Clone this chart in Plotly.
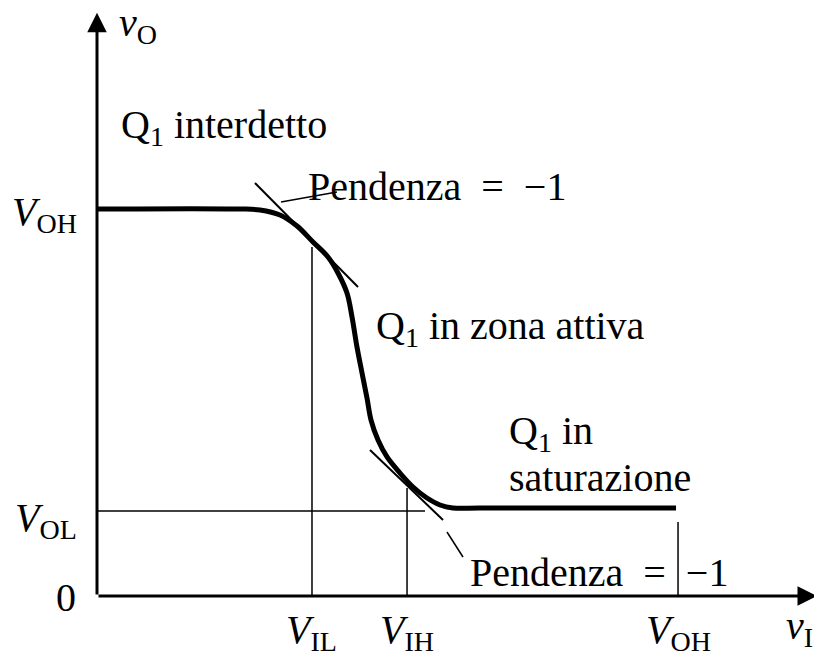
import plotly.graph_objects as go

# levels (arbitrary volt units)
V_OH = 5.375
V_OL = 1.18
V_IL = 2.986
V_IH = 4.306
V_OH_x = 8.07
v_max_x = 10.0
v_max_y = 8.10

# transfer characteristic vO(vI)
curve_x = [0.0, 1.986, 2.264, 2.542, 2.778, 3.000, 3.208, 3.347, 3.472, 3.542, 3.611,
           3.681, 3.750, 3.806, 3.903, 4.028, 4.208, 4.389, 4.583, 4.764, 4.944, 5.319, 8.042]
curve_y = [5.375, 5.375, 5.361, 5.292, 5.139, 4.917, 4.708, 4.486, 4.208, 3.875, 3.458,
           3.097, 2.750, 2.444, 2.167, 1.931, 1.708, 1.514, 1.361, 1.264, 1.222, 1.222, 1.222]

# tangents with slope -1 and their leaders
tan1_x = [2.194, 3.625]
tan1_y = [5.736, 4.292]
tan2_x = [3.792, 4.806]
tan2_y = [2.028, 1.056]
lead1_x = [2.556, 3.333]
lead1_y = [5.472, 5.611]
lead2_x = [4.861, 5.083]
lead2_y = [0.889, 0.542]

# guide lines
vil_top = 4.847
vih_top = 1.50
vol_end = 4.556
voh_tick = 1.028

FONT = "Liberation Serif"
px = 72.0
# page has an 8px body margin, so the figure is a bit smaller and shifted
W, H = 814, 651
x0, y0 = 89, 588

fig = go.Figure()

thin = dict(color="black", width=1.5)
fig.add_trace(go.Scatter(x=[V_IL, V_IL], y=[0, vil_top], mode="lines", line=thin))
fig.add_trace(go.Scatter(x=[V_IH, V_IH], y=[0, vih_top], mode="lines", line=thin))
fig.add_trace(go.Scatter(x=[0, vol_end], y=[V_OL, V_OL], mode="lines", line=thin))
fig.add_trace(go.Scatter(x=[V_OH_x, V_OH_x], y=[0, voh_tick], mode="lines", line=thin))

fig.add_trace(go.Scatter(x=tan1_x, y=tan1_y, mode="lines", line=dict(color="black", width=2)))
fig.add_trace(go.Scatter(x=tan2_x, y=tan2_y, mode="lines", line=dict(color="black", width=2)))
fig.add_trace(go.Scatter(x=lead1_x, y=lead1_y, mode="lines", line=dict(color="black", width=1.5)))
fig.add_trace(go.Scatter(x=lead2_x, y=lead2_y, mode="lines", line=dict(color="black", width=1.5)))

fig.add_trace(go.Scatter(x=curve_x, y=curve_y, mode="lines",
                         line=dict(color="black", width=5, shape="spline", smoothing=1.0)))

# axes with arrow heads
fig.add_annotation(x=v_max_x, y=0, ax=0, ay=0, axref="x", ayref="y", text="",
                   showarrow=True, arrowhead=2, arrowsize=1.3, arrowwidth=3, arrowcolor="black")
fig.add_annotation(x=0, y=v_max_y, ax=0, ay=0, axref="x", ayref="y", text="",
                   showarrow=True, arrowhead=2, arrowsize=1.3, arrowwidth=3, arrowcolor="black")

fs = 40
def label(x, y, text, xanchor="left", size=fs):
    fig.add_annotation(x=x, y=y, text=text, showarrow=False, xanchor=xanchor, yanchor="middle",
                       font=dict(family=FONT, size=size, color="black"))

slope_txt = "Pendenza\u2002=\u2002−1"
label(0.28, 7.93, "<i>v</i><sub>O</sub>")
label(0.30, 6.52, "Q<sub>1</sub> interdetto")
label(2.90, 5.69, slope_txt)
label(3.85, 3.72, "Q<sub>1</sub> in zona attiva")
label(5.70, 2.26, "Q<sub>1</sub> in")
label(5.70, 1.64, "saturazione")
label(5.15, 0.33, slope_txt)

label(-0.25, 5.30, "<i>V</i><sub>OH</sub>", xanchor="right")
label(-0.25, 1.05, "<i>V</i><sub>OL</sub>", xanchor="right")
label(-0.27, -0.02, "0", xanchor="right")

label(V_IL, -0.50, "<i>V</i><sub>IL</sub>", xanchor="center")
label(V_IH, -0.50, "<i>V</i><sub>IH</sub>", xanchor="center")
label(V_OH_x, -0.50, "<i>V</i><sub>OH</sub>", xanchor="center")
label(9.76, -0.45, "<i>v</i><sub>I</sub>", xanchor="center")

fig.update_layout(
    width=W, height=H,
    margin=dict(l=0, r=0, t=0, b=0),
    paper_bgcolor="white", plot_bgcolor="white",
    showlegend=False,
    xaxis=dict(range=[-x0 / px, (W - x0) / px], visible=False, fixedrange=True),
    yaxis=dict(range=[-(H - y0) / px, y0 / px], visible=False, fixedrange=True),
)

fig.write_html("out.html")
